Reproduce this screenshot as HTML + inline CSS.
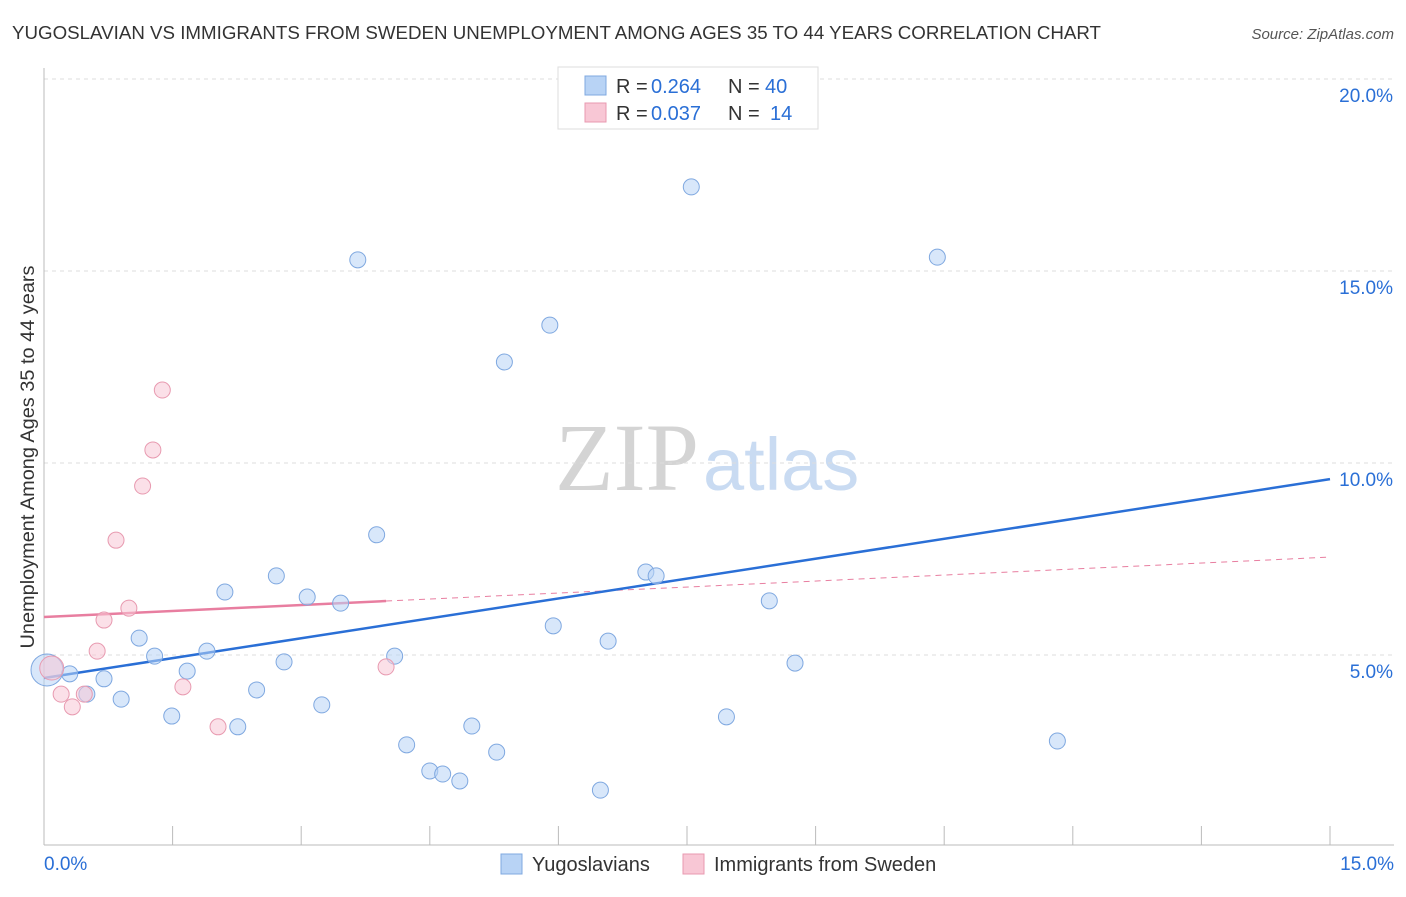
<!DOCTYPE html>
<html><head><meta charset="utf-8">
<style>
body{margin:0;background:#fff;font-family:"Liberation Sans",sans-serif;}
svg text{font-family:"Liberation Sans",sans-serif;}
</style></head>
<body>
<svg id="chart" width="1406" height="892" xmlns="http://www.w3.org/2000/svg">
<text x="12" y="39" font-size="18" fill="#333" textLength="1089" lengthAdjust="spacingAndGlyphs">YUGOSLAVIAN VS IMMIGRANTS FROM SWEDEN UNEMPLOYMENT AMONG AGES 35 TO 44 YEARS CORRELATION CHART</text>
<text x="1394" y="39" font-size="15" fill="#555" text-anchor="end" font-style="italic">Source: ZipAtlas.com</text>
<text transform="translate(34,457) rotate(-90)" font-size="19" fill="#333" text-anchor="middle" textLength="383" lengthAdjust="spacingAndGlyphs">Unemployment Among Ages 35 to 44 years</text>
<text x="555" y="490" font-size="96"><tspan fill="#d4d4d4" font-family="Liberation Serif">ZIP</tspan><tspan fill="#c9dbf2" font-size="74" dx="4">atlas</tspan></text>
<g id="grid"></g>
<g id="axes"></g>
<g id="trends"></g>
<g id="points"></g>
<g>
<rect x="558" y="67" width="260" height="62" fill="#fff" stroke="#ddd"/>
<rect x="585" y="76" width="21" height="19" fill="#b8d3f5" stroke="#7fa8e0"/>
<text x="616" y="93" font-size="20" fill="#333">R =</text><text x="651" y="93" font-size="20" fill="#2a6fd6">0.264</text>
<text x="728" y="93" font-size="20" fill="#333">N =</text><text x="765" y="93" font-size="20" fill="#2a6fd6">40</text>
<rect x="585" y="103" width="21" height="19" fill="#f8c7d5" stroke="#e89ab0"/>
<text x="616" y="120" font-size="20" fill="#333">R =</text><text x="651" y="120" font-size="20" fill="#2a6fd6">0.037</text>
<text x="728" y="120" font-size="20" fill="#333">N =</text><text x="770" y="120" font-size="20" fill="#2a6fd6">14</text>
</g>
<g>
<rect x="501" y="854" width="21" height="20" fill="#b8d3f5" stroke="#7fa8e0"/>
<text x="532" y="871" font-size="20" fill="#333">Yugoslavians</text>
<rect x="683" y="854" width="21" height="20" fill="#f8c7d5" stroke="#e89ab0"/>
<text x="714" y="871" font-size="20" fill="#333">Immigrants from Sweden</text>
</g>
</svg>
<script>
const yTicks=[5,10,15,20];
const yTickLabels=["5.0%","10.0%","15.0%","20.0%"];
const xTickCount=[0,1.5,3,4.5,6,7.5,9,10.5,12,13.5,15];
const blueX=[0.035,0.30,0.50,0.70,0.90,1.11,1.29,1.49,1.67,1.90,2.11,2.26,2.48,2.71,2.80,3.07,3.24,3.46,3.66,3.88,4.09,4.23,4.50,4.65,4.85,4.99,5.28,5.37,5.90,5.94,6.49,6.58,7.02,7.14,7.55,7.96,8.46,8.76,10.42,11.82];
const blueY=[4.61,4.51,3.98,4.38,3.85,5.44,4.97,3.41,4.58,5.10,6.64,3.13,4.09,7.06,4.82,6.51,3.70,6.35,15.29,8.13,4.97,2.66,1.98,1.90,1.72,3.15,2.47,12.63,13.59,5.76,1.48,5.36,7.16,7.06,17.19,3.39,6.41,4.79,15.36,2.76];
const pinkX=[0.09,0.20,0.33,0.47,0.62,0.70,0.84,0.99,1.15,1.27,1.38,1.62,2.03,3.99];
const pinkY=[4.66,3.98,3.65,3.98,5.10,5.91,7.99,6.22,9.40,10.34,11.90,4.17,3.13,4.69];
const blueTrend=[4.40,9.58];
const pinkTrend=[5.99,7.55];
const pinkSolidEnd=3.99;
const NS="http://www.w3.org/2000/svg";
const X=v=>44+v/15*1286, Y=v=>847-v*38.4;
function mk(t,a,p){const e=document.createElementNS(NS,t);for(const k in a)e.setAttribute(k,a[k]);p.appendChild(e);return e;}
const grid=document.getElementById('grid'),axes=document.getElementById('axes');
yTicks.forEach((t,i)=>{
 const l=mk('line',{x1:44,x2:1394,y1:Y(t),y2:Y(t),stroke:'#ddd','stroke-dasharray':'4,4'},grid);
 
 
 const tx=mk('text',{x:1393,y:Y(t)+23,'font-size':19,fill:'#2a6fd6','text-anchor':'end'},axes);
 tx.textContent=yTickLabels[i];
 
 
});
mk('line',{x1:44,x2:1394,y1:79,y2:79,stroke:'#ddd','stroke-dasharray':'4,4'},grid);
const ax=mk('line',{x1:44,x2:44,y1:68,y2:845,stroke:'#bbb'},axes);


const bx=mk('line',{x1:44,x2:1394,y1:845,y2:845,stroke:'#bbb'},axes);


xTickCount.forEach(t=>{const l=mk('line',{x1:X(t),x2:X(t),y1:826,y2:845,stroke:'#bbb'},axes);
 
 });
const x0=mk('text',{x:44,y:870,'font-size':19,fill:'#2a6fd6'},axes);x0.textContent="0.0%";


const x1=mk('text',{x:1394,y:870,'font-size':19,fill:'#2a6fd6','text-anchor':'end'},axes);x1.textContent="15.0%";


const tr=document.getElementById('trends');
const py=x=>pinkTrend[0]+(pinkTrend[1]-pinkTrend[0])*x/15;
const pd=mk('line',{x1:X(pinkSolidEnd),y1:Y(py(pinkSolidEnd)),x2:X(15),y2:Y(pinkTrend[1]),stroke:'#e87ea0','stroke-width':1,'stroke-dasharray':'6,5'},tr);


const pts=document.getElementById('points');
blueX.forEach((x,i)=>{const c=mk('circle',{cx:X(x),cy:Y(blueY[i]),r:i==0?16:8,fill:'#b8d3f5','fill-opacity':0.55,stroke:'#7fa8e0'},pts);
 
 });
pinkX.forEach((x,i)=>{const c=mk('circle',{cx:X(x),cy:Y(pinkY[i]),r:i==0?12:8,fill:'#f8c7d5','fill-opacity':0.55,stroke:'#e89ab0'},pts);
 
 });
const bl=mk('line',{x1:X(0),y1:Y(blueTrend[0]),x2:X(15),y2:Y(blueTrend[1]),stroke:'#2a6fd6','stroke-width':2.5},tr);


const ps=mk('line',{x1:X(0),y1:Y(pinkTrend[0]),x2:X(pinkSolidEnd),y2:Y(py(pinkSolidEnd)),stroke:'#e87ea0','stroke-width':2.5},tr);


</script>
</body></html>
